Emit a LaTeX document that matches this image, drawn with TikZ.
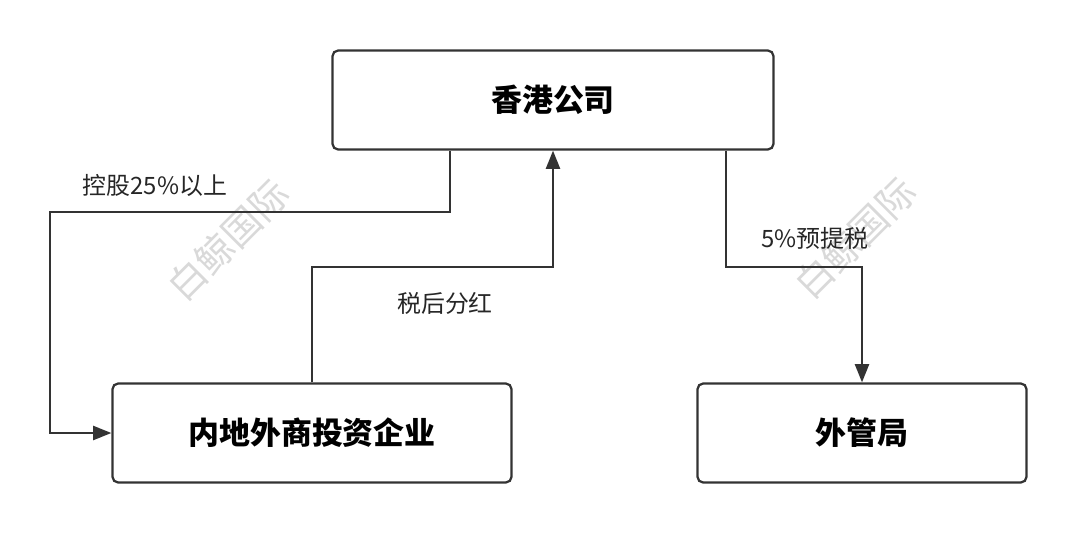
\documentclass[tikz,border=0pt]{standalone}
\usepackage{fontspec}
\newfontfamily\cjk{Noto Sans CJK SC}
\usetikzlibrary{arrows.meta}

\begin{document}
\begin{tikzpicture}[x=0.025cm,y=-0.025cm,
  box/.style={draw=black!80,line width=1.6pt,rounded corners=4pt,font=\cjk\bfseries\fontsize{22}{22}\selectfont},
  flow/.style={draw=black!80,line width=1.6pt,-{Triangle[length=13pt,width=10pt]}},
  lbl/.style={font=\cjk\fontsize{17}{17}\selectfont,text=black!85},
  wmark/.style={font=\cjk\fontsize{27}{27}\selectfont,text=black!15,rotate=45}]
%
  \useasboundingbox (0,0) rectangle (1080,534);

         \node [box,minimum width=441*0.025cm,minimum height=99*0.025cm] (HK)  at (553,100)  {香港公司};
  		 \node [box,minimum width=399*0.025cm,minimum height=99*0.025cm] (ML)  at (312,433)  {内地外商投资企业};
  		 \node [box,minimum width=329*0.025cm,minimum height=99*0.025cm] (FX)  at (862,433)  {外管局};

  		 \node [wmark] (W1) at (228,240) {白鲸国际};
  		 \node [wmark] (W2) at (855,238) {白鲸国际};

  		 \draw [flow] (HK.south -| 450,0) |- (50,212) |- (ML.west);
  		 \draw [flow] (ML.north -| 312,0) |- (553,267) -- (HK.south);
  		 \draw [flow] (HK.south -| 726,0) |- (862,267) -- (FX.north);

  		 \node [lbl] (L1) at (155,185) {控股25\%以上};
  		 \node [lbl] (L2) at (445,303) {税后分红};
  		 \node [lbl] (L3) at (815,238) {5\%预提税};

\end{tikzpicture}
\end{document}
